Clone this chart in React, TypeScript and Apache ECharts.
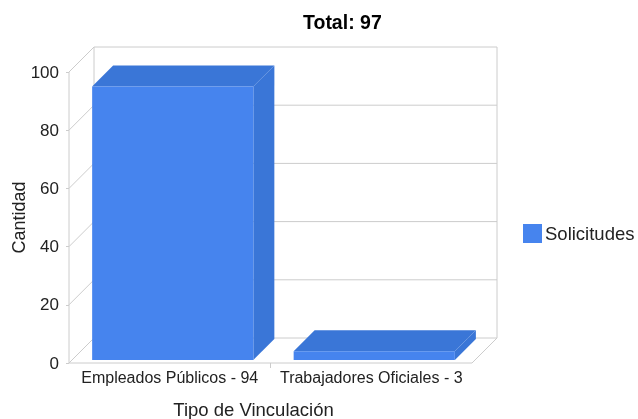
import React, { useEffect, useRef } from 'react';
import * as echarts from 'echarts';

const categories = ['Empleados Públicos - 94', 'Trabajadores Oficiales - 3'];
const values = [94, 3];
const yTicks = [0, 20, 40, 60, 80, 100];
const seriesName = 'Solicitudes';
const titleText = 'Total: 97';
const xAxisName = 'Tipo de Vinculación';
const yAxisName = 'Cantidad';

const DEPTH = 25;
const BAR_FRONT = 3;
const BAR_BACK = 24;
const FRONT = '#4684ee';
const SHADE = '#3a76d7';
const LINE = '#cccccc';
const FONT = '"Liberation Sans", Arial, sans-serif';

export default function App() {
  const ref = useRef<HTMLDivElement>(null);
  useEffect(() => {
    const chart = echarts.init(ref.current!, null, { renderer: 'svg' });
    chart.setOption({
      animation: false,
      textStyle: { fontFamily: FONT },
      title: {
        text: titleText,
        left: 303,
        top: 12,
        padding: 0,
        textStyle: { fontSize: 19.5, fontWeight: 'bold', color: '#000', fontFamily: FONT },
      },
      legend: {
        data: [{ name: seriesName, icon: 'rect' }],
        orient: 'vertical',
        left: 523,
        top: 224,
        padding: 0,
        itemWidth: 19,
        itemHeight: 19,
        itemGap: 5,
        textStyle: { fontSize: 18.5, color: '#222', fontFamily: FONT, padding: [0, 0, 0, -2] },
      },
      grid: { left: 69, top: 72, width: 403, height: 291, outerBoundsMode: 'none', containLabel: false },
      xAxis: {
        type: 'category',
        data: categories,
        axisLine: { show: false },
        axisTick: { show: false },
        splitLine: { show: false },
        axisLabel: { interval: 0, margin: 6, fontSize: 16, color: '#222', fontFamily: FONT, hideOverlap: false },
        name: xAxisName,
        nameLocation: 'middle',
        nameGap: 37,
        nameMoveOverlap: false,
        nameTextStyle: { fontSize: 18.5, color: '#222', fontFamily: FONT, padding: [0, 34, 0, 0] },
      },
      yAxis: {
        type: 'value',
        min: 0,
        max: 100,
        interval: 20,
        axisLine: { show: false },
        axisTick: { show: true, length: 3, lineStyle: { color: LINE } },
        splitLine: { show: false },
        axisLabel: { margin: 10, fontSize: 17, color: '#222', fontFamily: FONT },
        name: yAxisName,
        nameLocation: 'middle',
        nameGap: 41,
        nameMoveOverlap: false,
        nameTextStyle: { fontSize: 18, color: '#222', fontFamily: FONT },
      },
      series: [
        {
          type: 'custom',
          coordinateSystem: 'cartesian2d',
          silent: true,
          z: 1,
          encode: { x: 0, y: 1 },
          data: yTicks.map((v) => [0, v]),
          renderItem: (params: any, api: any) => {
            const cs = params.coordSys;
            const D = DEPTH;
            const v = api.value(1);
            const y = api.coord([0, v])[1];
            const x0 = cs.x;
            const x1 = cs.x + cs.width;
            const style = { stroke: LINE, lineWidth: 1, fill: null };
            const children: any[] = [
              { type: 'polyline', shape: { points: [[x0, y], [x0 + D, y - D], [x1 + D, y - D]] }, style },
            ];
            if (v === 0) {
              const yb = cs.y + cs.height;
              const yt = cs.y;
              children.push(
                { type: 'line', shape: { x1: x0, y1: yb, x2: x1, y2: yb }, style },
                { type: 'line', shape: { x1: x1, y1: yb, x2: x1 + D, y2: yb - D }, style },
                { type: 'line', shape: { x1: x0, y1: yt, x2: x0, y2: yb }, style },
                { type: 'line', shape: { x1: x0 + D, y1: yt - D, x2: x0 + D, y2: yb - D }, style },
                { type: 'line', shape: { x1: x1 + D, y1: yt - D, x2: x1 + D, y2: yb - D }, style }
              );
              const bw = api.size([1, 0])[0];
              for (let i = 1; i < categories.length; i++) {
                const cx = api.coord([i, 0])[0] - bw / 2;
                children.push({ type: 'line', shape: { x1: cx, y1: yb, x2: cx, y2: yb + 5 }, style });
              }
            }
            return { type: 'group', children };
          },
        },
        {
          name: seriesName,
          type: 'custom',
          coordinateSystem: 'cartesian2d',
          z: 2,
          encode: { x: 0, y: 1 },
          itemStyle: { color: FRONT },
          data: values.map((v, i) => [i, v]),
          renderItem: (params: any, api: any) => {
            const i = api.value(0);
            const v = api.value(1);
            const top = api.coord([i, v]);
            const base = api.coord([i, 0]);
            const bw = api.size([1, 0])[0] * 0.8;
            const l = top[0] - bw / 2 + BAR_FRONT;
            const r = top[0] + bw / 2 + BAR_FRONT;
            const yt = top[1] - BAR_FRONT;
            const yb = base[1] - BAR_FRONT;
            const d = BAR_BACK - BAR_FRONT;
            return {
              type: 'group',
              children: [
                {
                  type: 'polygon',
                  shape: { points: [[r, yt], [r + d, yt - d], [r + d, yb - d], [r, yb]] },
                  style: { fill: SHADE },
                },
                {
                  type: 'polygon',
                  shape: { points: [[l, yt], [l + d, yt - d], [r + d, yt - d], [r, yt]] },
                  style: { fill: SHADE },
                },
                {
                  type: 'rect',
                  shape: { x: l, y: yt, width: bw, height: yb - yt },
                  style: { fill: FRONT },
                },
              ],
            };
          },
        },
      ],
    });
    return () => chart.dispose();
  }, []);
  return <div ref={ref} style={{ position: 'fixed', left: 0, top: 0, width: 638, height: 419 }} />;
}
